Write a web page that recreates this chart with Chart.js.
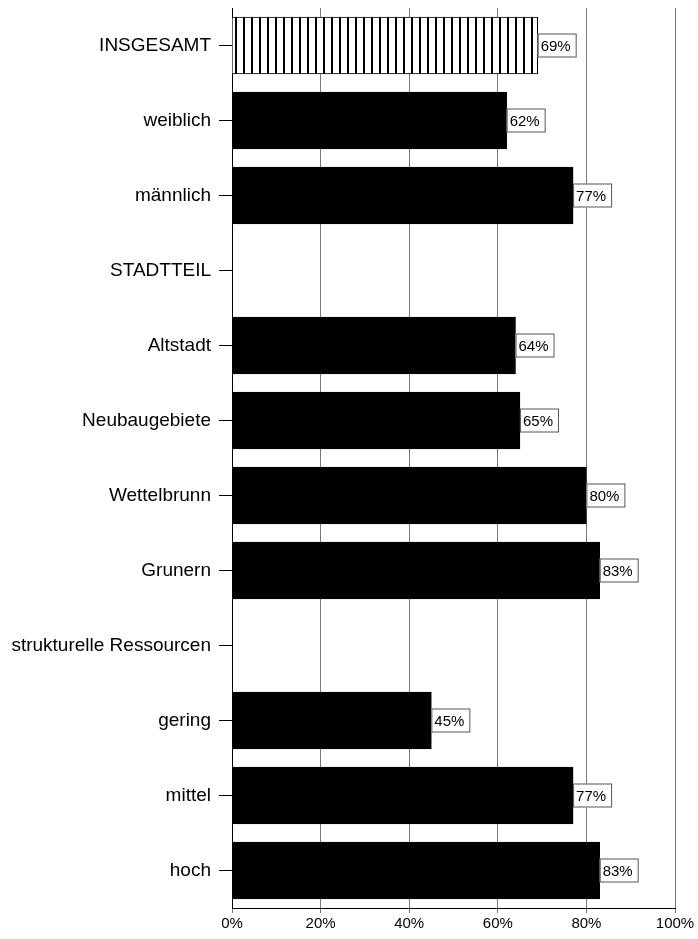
<!DOCTYPE html>
<html>
<head>
<meta charset="utf-8">
<script src="https://cdn.jsdelivr.net/npm/chart.js@4.4.1/dist/chart.umd.min.js"></script>
<style>
  html, body { margin: 0; padding: 0; background: #fff; }
  #wrap { width: 698px; height: 939px; }
</style>
</head>
<body>
<div id="wrap"><canvas id="chart" width="698" height="939"></canvas></div>
<script>
var categories = ['INSGESAMT', 'weiblich', 'männlich', 'STADTTEIL', 'Altstadt', 'Neubaugebiete',
  'Wettelbrunn', 'Grunern', 'strukturelle Ressourcen', 'gering', 'mittel', 'hoch'];
var shares = [69, 62, 77, null, 64, 65, 80, 83, null, 45, 77, 83];
var xTicks = [0, 20, 40, 60, 80, 100];

// vertical stripes for the total bar
function stripes() {
  var c = document.createElement('canvas');
  c.width = 8; c.height = 8;
  var g = c.getContext('2d');
  g.fillStyle = '#fff';
  g.fillRect(0, 0, 8, 8);
  g.fillStyle = '#000';
  g.fillRect(3, 0, 2, 8);
  return g.createPattern(c, 'repeat');
}

var fills = shares.map(function(v, i) { return i === 0 ? stripes() : '#000'; });

var boxLabels = {
  id: 'boxLabels',
  afterDatasetsDraw: function(chart) {
    var ctx = chart.ctx;
    var meta = chart.getDatasetMeta(0);
    ctx.save();
    ctx.font = '15px "Liberation Sans", Arial, sans-serif';
    ctx.textBaseline = 'middle';
    ctx.textAlign = 'left';
    meta.data.forEach(function(bar, i) {
      var v = shares[i];
      if (v === null) return;
      var x = bar.x, y = bar.y;
      ctx.fillStyle = '#fff';
      ctx.fillRect(x, y - 12, 39, 24);
      ctx.strokeStyle = '#555';
      ctx.lineWidth = 1;
      ctx.strokeRect(x + 0.5, y - 11.5, 38, 23);
      ctx.fillStyle = '#000';
      ctx.fillText(v + '%', x + 3, y + 1);
    });
    ctx.restore();
  }
};

new Chart(document.getElementById('chart'), {
  type: 'bar',
  data: {
    labels: categories,
    datasets: [{
      data: shares,
      backgroundColor: fills,
      borderColor: '#000',
      borderWidth: 1,
      barThickness: 57
    }]
  },
  options: {
    indexAxis: 'y',
    responsive: false,
    animation: false,
    layout: { padding: { top: 8, right: 23, left: 0, bottom: 0 } },
    plugins: { legend: { display: false }, tooltip: { enabled: false } },
    scales: {
      x: {
        min: 0, max: 100,
        afterBuildTicks: function(axis) { axis.ticks = xTicks.map(function(v) { return { value: v }; }); },
        afterFit: function(axis) { axis.height = 31; axis.paddingRight = 0; },
        ticks: {
          color: '#000',
          padding: 2,
          font: { size: 15, family: '"Liberation Sans", Arial, sans-serif' },
          callback: function(v) { return v + '%'; }
        },
        grid: { color: '#777', lineWidth: 1, tickLength: 5 },
        border: { color: '#000', width: 1 }
      },
      y: {
        afterFit: function(axis) { axis.width = 232; axis.paddingTop = 0; axis.paddingBottom = 0; },
        ticks: {
          color: '#000',
          padding: 8,
          font: { size: 19, family: '"Liberation Sans", Arial, sans-serif' }
        },
        grid: { drawOnChartArea: false, offset: false, color: '#000', tickLength: 13 },
        border: { color: '#000', width: 1 }
      }
    }
  },
  plugins: [boxLabels]
});
</script>
</body>
</html>
